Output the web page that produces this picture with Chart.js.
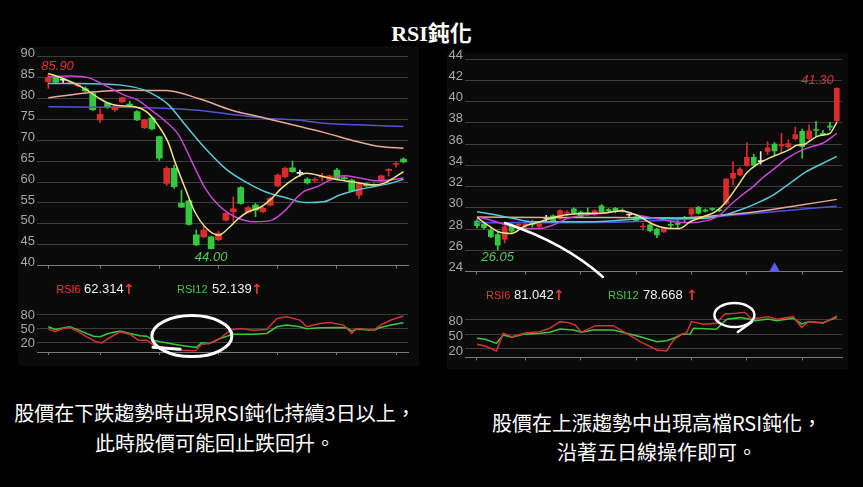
<!DOCTYPE html>
<html>
<head>
<meta charset="utf-8">
<title>RSI鈍化</title>
<script src="https://cdn.jsdelivr.net/npm/chart.js@4.4.1/dist/chart.umd.min.js"></script>
<style>
  body { margin: 0; background: #000; width: 863px; height: 487px; overflow: hidden; position: relative; font-family: "Liberation Sans", Arial, sans-serif; }
  .panel { position: absolute; background: #0a0a0a; }
  canvas { position: absolute; }
  .t { position: absolute; white-space: nowrap; line-height: 16px; }
  .r { color: #e03a36; font-size: 11px; }
  .g { color: #45c845; font-size: 11px; }
  .w { color: #f0f0f0; font-size: 13px; }
  .up { color: #e03a36; font: bold 14px/16px "DejaVu Sans", sans-serif; }
  .title { position: absolute; left: 0; top: 22px; width: 863px; text-align: center; color: #fff; font: bold 22px/24px "Liberation Serif", "Noto Sans CJK TC", serif; }
  .cap { position: absolute; width: 420px; text-align: center; color: #fff; font: 20px/30px "Noto Sans CJK TC", sans-serif; }
</style>
</head>
<body>
<div class="title">RSI鈍化</div>

<div class="panel" style="left:18px;top:46px;width:401px;height:320px"></div>
<div class="panel" style="left:447px;top:53px;width:401px;height:317px"></div>

<canvas id="leftPrice" width="400" height="232" style="left:15px;top:44px"></canvas>
<canvas id="leftRsi" width="400" height="64" style="left:15px;top:298px"></canvas>
<canvas id="rightPrice" width="400" height="235" style="left:445px;top:47px"></canvas>
<canvas id="rightRsi" width="400" height="68" style="left:445px;top:300px"></canvas>

<span class="t r" style="left:56px;top:281px">RSI6</span>
<span class="t w" style="left:84px;top:281px">62.314</span>
<span class="t up" style="left:123px;top:281px">↑</span>
<span class="t g" style="left:177px;top:281px">RSI12</span>
<span class="t w" style="left:212px;top:281px">52.139</span>
<span class="t up" style="left:251px;top:281px">↑</span>

<span class="t r" style="left:486px;top:287px">RSI6</span>
<span class="t w" style="left:514px;top:287px">81.042</span>
<span class="t up" style="left:553px;top:287px">↑</span>
<span class="t g" style="left:608px;top:287px">RSI12</span>
<span class="t w" style="left:643px;top:287px">78.668</span>
<span class="t up" style="left:686px;top:287px">↑</span>

<div class="cap" style="left:5px;top:398px">股價在下跌趨勢時出現RSI鈍化持續3日以上，<br>此時股價可能回止跌回升。</div>
<div class="cap" style="left:447px;top:408px;line-height:29px">股價在上漲趨勢中出現高檔RSI鈍化，<br>沿著五日線操作即可。</div>

<script>
Chart.defaults.font.family = '"Liberation Sans", Arial, sans-serif';
Chart.defaults.animation = false;

// tick positions (bar index) and axis labels
const xTicks = [0, 7, 15, 23, 31, 39, 47];
const leftPriceTicks = [40, 45, 50, 55, 60, 65, 70, 75, 80, 85, 90];
const rightPriceTicks = [24, 26, 28, 30, 32, 34, 36, 38, 40, 42, 44];
const rsiTicks = [20, 50, 80];

// left chart: downtrend candles
const leftOpen  = [84.0, 85.0, 84.4, 83.7, 83.0, 82.4, 81.2, 74.9, 78.9, 77.3, 79.2, 78.5, 76.9, 73.0, 75.4, 70.9, 59.7, 63.3, 54.9, 55.5, 47.4, 46.9, 46.9, 46.2, 50.9, 52.9, 58.7, 52.8, 54.5, 52.9, 54.5, 59.1, 61.3, 63.4, 62.1, 60.7, 60.4, 61.2, 60.5, 62.9, 61.1, 60.5, 56.9, 59.5, 59.4, 60.3, 62.8, 64.2, 65.5];
const leftClose = [85.0, 83.9, 84.4, 83.9, 83.3, 81.8, 77.3, 76.2, 77.8, 78.0, 80.2, 78.4, 74.9, 74.9, 72.7, 65.7, 63.3, 58.9, 54.0, 49.9, 45.0, 48.5, 44.1, 47.8, 52.5, 53.6, 54.9, 53.9, 53.3, 53.7, 56.1, 61.7, 63.3, 62.5, 62.1, 59.8, 60.6, 61.4, 61.5, 60.9, 60.8, 57.9, 59.7, 59.1, 59.2, 61.5, 63.0, 64.4, 64.8];
const leftHigh  = [85.9, 85.4, 84.8, 84.1, 83.5, 82.8, 81.6, 77.5, 79.1, 78.1, 80.3, 79.3, 77.1, 75.1, 75.6, 71.0, 63.7, 64.1, 58.1, 55.7, 48.5, 49.6, 47.1, 48.3, 52.9, 56.5, 58.9, 54.2, 54.9, 54.0, 56.4, 62.0, 63.6, 65.0, 62.9, 61.0, 61.1, 62.1, 61.7, 63.3, 61.3, 60.7, 60.0, 59.8, 59.6, 61.7, 63.2, 64.8, 65.8];
const leftLow   = [82.4, 83.5, 83.8, 83.5, 82.8, 81.6, 77.1, 74.2, 77.6, 76.9, 79.0, 78.0, 74.7, 72.8, 72.5, 65.2, 59.2, 58.5, 53.9, 49.7, 44.8, 46.7, 44.0, 46.0, 50.7, 50.5, 54.7, 52.6, 51.7, 52.6, 54.3, 58.9, 61.0, 62.3, 61.4, 59.5, 60.0, 60.3, 60.3, 60.5, 60.6, 57.7, 56.1, 58.9, 59.0, 60.1, 61.4, 63.6, 64.6];

// left moving averages, [bar index, price]
const leftMa5 = [[0, 86.0], [2, 84.8], [4, 83.2], [5.6, 81.6], [6.9, 80.0], [8.1, 78.9], [9.4, 78.3], [11.7, 78.0], [13.5, 76.5], [14.8, 73.7], [16.2, 69.5], [17.1, 64.9], [18.5, 58.5], [19.8, 52.9], [21.4, 48.9], [23, 47.3], [24.3, 48.9], [25.7, 51.3], [27, 52.9], [28.8, 54.1], [30.2, 56.1], [31.5, 58.5], [33.3, 60.9], [34.9, 62.1], [37.2, 61.3], [39.4, 60.5], [41.7, 59.9], [43.9, 59.3], [45.3, 59.7], [46.6, 60.9], [48, 62.5]];
const leftMa10 = [[0, 85.2], [3, 85.4], [5.4, 85.0], [7.6, 83.2], [10.3, 80.8], [12.1, 79.6], [13.9, 77.2], [15.8, 74.6], [17.6, 71.3], [19.4, 64.9], [21.2, 58.5], [23, 54.5], [25.2, 51.7], [27.9, 50.5], [30.2, 50.9], [32, 53.2], [33.3, 55.8], [34.5, 57.7], [36.3, 58.9], [38.1, 60.5], [39.9, 61.5], [42.1, 61.0], [44.4, 60.3], [46.2, 60.5], [48, 61.0]];
const leftMa20 = [[0, 83.6], [4, 83.6], [9.9, 83.2], [13, 82.0], [14.8, 80.4], [16.2, 78.6], [18.5, 73.7], [21.2, 68.1], [23.9, 63.3], [26.6, 60.1], [29.3, 57.7], [32, 56.3], [34.9, 55.1], [37.2, 55.3], [39.4, 56.9], [41.7, 58.1], [43.9, 58.9], [46.2, 59.7], [48, 60.7]];
const leftMa60 = [[0, 80.2], [5.4, 81.4], [9.9, 82.0], [16, 81.9], [20.3, 80.0], [24.8, 77.2], [29.3, 75.3], [33.3, 73.6], [37.2, 71.9], [41.7, 69.7], [44.8, 68.5], [48, 68.1]];
const leftMa120 = [[0, 78.0], [10, 77.9], [16.2, 77.6], [20.3, 77.2], [24.8, 76.2], [29.3, 75.3], [33.3, 74.9], [37.2, 74.1], [41.7, 73.7], [48, 73.3]];

// left RSI
const leftRsi6 = [[0, 48.2], [0.9, 42.6], [2, 49.6], [2.9, 51.8], [4.1, 42.6], [5.2, 32.0], [6.5, 21.4], [7.2, 19.3], [8.1, 28.5], [9.7, 42.6], [11, 37.6], [12.2, 24.9], [13.3, 24.9], [14.2, 14.4], [16.4, 7.3], [18.2, 3.8], [19.6, 2.4], [20, 3.8], [20.7, 16.5], [21.8, 17.9], [23.2, 28.5], [24.6, 46.1], [25.9, 49.6], [27.7, 46.1], [29.5, 47.5], [30.9, 70.8], [32.2, 74.4], [34, 67.3], [34.9, 53.2], [36.7, 60.2], [38.1, 62.4], [39.9, 56.7], [41, 39.1], [41.7, 49.6], [44, 46.1], [44.9, 56.7], [46.3, 67.3], [48, 75.8]];
const leftRsi12 = [[0, 53.2], [0.9, 47.5], [2.9, 53.2], [4.1, 46.1], [6.1, 33.4], [7, 32.0], [8.1, 39.1], [9.7, 44.0], [11, 39.1], [12.4, 34.1], [13.3, 33.4], [14.2, 24.9], [15.1, 21.4], [17.8, 14.4], [20, 9.4], [20.7, 19.3], [21.8, 17.9], [23.2, 28.5], [25, 37.6], [27.7, 37.6], [29.5, 39.1], [30.9, 53.2], [32.2, 56.7], [34, 53.2], [34.9, 48.9], [36.7, 51.1], [39.4, 51.8], [40.3, 51.1], [41, 44.0], [41.7, 48.2], [44, 46.1], [44.9, 51.8], [46.3, 56.7], [48, 61.6]];

// right chart: uptrend candles
const rightOpen  = [28.77, 28.45, 27.9, 27.5, 27.07, 28.4, 28.35, 28.35, 28.55, 28.25, 29.0, 29.25, 29.0, 29.5, 29.9, 29.6, 29.55, 29.35, 30.2, 29.85, 29.95, 29.8, 29.33, 29.15, 28.2, 28.4, 28.0, 27.75, 28.45, 28.55, 29.0, 29.4, 30.05, 29.8, 29.95, 29.85, 30.45, 32.8, 33.1, 34.0, 34.75, 34.35, 35.3, 36.0, 35.85, 35.75, 36.5, 37.2, 36.5, 37.35, 37.0, 37.65, 38.2];
const rightClose = [28.33, 28.15, 27.3, 26.5, 28.23, 27.8, 28.45, 28.45, 28.45, 28.5, 29.0, 28.8, 29.75, 29.6, 29.5, 29.2, 29.45, 29.75, 29.65, 29.75, 29.65, 29.7, 29.33, 28.8, 28.3, 27.85, 27.45, 28.15, 28.35, 28.45, 28.95, 29.9, 29.5, 29.7, 29.85, 29.75, 32.7, 33.25, 33.65, 34.75, 34.05, 34.35, 35.65, 35.35, 35.95, 36.05, 36.9, 35.75, 37.25, 37.3, 36.85, 37.6, 41.25];
const rightHigh  = [28.9, 28.6, 28.1, 27.8, 28.4, 28.6, 28.7, 28.75, 28.85, 28.6, 29.3, 29.35, 29.85, 29.75, 30.0, 29.7, 30.0, 29.85, 30.3, 29.95, 30.05, 29.9, 29.45, 29.25, 28.55, 28.5, 28.1, 28.2, 28.7, 28.85, 29.2, 30.0, 30.15, 29.9, 30.0, 29.95, 32.75, 34.35, 33.8, 36.15, 35.05, 35.3, 36.2, 36.15, 37.0, 36.4, 37.6, 37.4, 37.8, 38.15, 37.3, 38.05, 41.3];
const rightLow   = [28.1, 28.0, 27.2, 26.05, 26.7, 27.7, 28.1, 28.15, 28.2, 28.15, 28.7, 28.7, 28.9, 29.3, 29.4, 29.1, 29.3, 29.3, 29.6, 29.6, 29.55, 29.6, 29.2, 28.7, 27.9, 27.75, 27.2, 27.7, 28.1, 28.1, 28.7, 29.2, 29.4, 29.6, 29.75, 29.65, 30.3, 32.15, 33.0, 33.9, 33.95, 34.1, 35.0, 35.0, 35.2, 35.6, 36.4, 34.65, 36.4, 36.7, 36.8, 37.3, 38.0];

// right moving averages
const rightMa5 = [[0, 29.11], [1.9, 28.23], [3.1, 27.76], [5, 27.6], [6.7, 28.23], [9.1, 28.7], [11.5, 29.17], [13.9, 29.42], [16.3, 29.48], [18.7, 29.55], [20.9, 29.74], [22.1, 29.55], [23.6, 29.17], [25, 28.6], [26.4, 28.23], [27.9, 28.07], [29.3, 28.07], [30.8, 28.7], [32.7, 29.17], [34.6, 29.7], [36.1, 30.65], [37.5, 31.9], [39, 33.3], [40.4, 34.05], [42.3, 34.7], [43.8, 35.1], [45.2, 35.5], [46.2, 35.9], [47.2, 35.95], [48.1, 36.3], [49.1, 36.7], [50, 36.85], [51, 37.0], [52, 38.05]];
const rightMa10 = [[0, 29.17], [1.9, 28.86], [4.3, 28.39], [6.7, 28.07], [9.1, 28.07], [11, 28.39], [13, 29.0], [15.4, 29.33], [17.8, 29.48], [20.7, 29.7], [23.1, 29.33], [26, 29.0], [28.4, 28.7], [30.8, 28.6], [33.2, 28.8], [35.1, 29.33], [36.6, 30.27], [38, 31.05], [39.9, 32.0], [41.4, 32.9], [42.8, 33.6], [44.7, 34.6], [46.2, 35.2], [48.1, 35.7], [50, 36.1], [52, 37.0]];
const rightMa20 = [[0, 29.64], [2.8, 29.33], [5.3, 29.0], [8.1, 28.7], [11.5, 28.7], [16.3, 28.7], [21.1, 28.86], [24.5, 29.0], [28.4, 29.0], [32.2, 29.0], [35.1, 29.24], [38, 29.8], [40.4, 30.43], [42.8, 31.2], [45.2, 32.3], [47.6, 33.4], [50, 34.2], [52, 34.85]];
const rightMa60 = [[0, 29.15], [10, 29.1], [20, 29.1], [28.4, 29.05], [35.6, 29.33], [40.4, 29.64], [45.2, 30.1], [52, 30.8]];
const rightMa120 = [[0, 28.6], [14, 28.6], [28.4, 28.86], [35.6, 29.24], [42.8, 29.64], [52, 30.15]];

// right RSI
const rightRsi6 = [[0, 29.4], [1.2, 26.1], [2.8, 15.9], [3.8, 51.7], [5, 44.9], [7.2, 53.0], [9.1, 55.1], [10.5, 61.8], [12, 75.3], [13.2, 73.3], [14.2, 68.5], [15.1, 53.7], [17.1, 67.2], [19.7, 67.2], [21.6, 51.7], [23.6, 34.8], [26, 18.0], [27.4, 15.9], [28.4, 38.2], [29.6, 49.7], [30.3, 53.0], [31, 75.3], [32.7, 69.9], [34.6, 71.9], [35.8, 90.8], [37.5, 92.1], [38.7, 94.2], [39.7, 80.7], [42.1, 85.4], [43.3, 80.0], [45.7, 85.4], [46.9, 63.8], [47.9, 75.3], [50, 71.9], [52, 86.7]];
const rightRsi12 = [[0, 41.6], [1.2, 39.5], [2.8, 31.4], [3.8, 48.3], [5, 43.6], [6.7, 49.7], [9.1, 51.7], [10.5, 53.7], [12, 60.4], [13.9, 58.4], [15.1, 53.7], [16.8, 58.4], [19.7, 58.4], [21.6, 51.7], [23.6, 44.9], [26, 34.8], [27.4, 36.8], [28.4, 41.6], [29.6, 49.7], [30.8, 50.3], [31.3, 61.8], [34.6, 59.8], [36.1, 80.0], [38, 83.4], [39.5, 80.0], [39.9, 76.6], [42.1, 80.7], [43.3, 77.3], [45.7, 82.0], [46.9, 70.6], [47.9, 75.3], [50, 73.3], [52, 84.0]];

const RED = '#dc2b2b', GREEN = '#33c83d', NEUTRAL = '#e6e6e6';
const maColors = ['#efe38a', '#c846d2', '#5ac8d2', '#e8aa95', '#5252d2'];

// draws the price tags, hand-drawn circles and the marker triangle
const marks = {
    id: 'marks',
    afterDraw(chart, args, o) {
        const ctx = chart.ctx;
        const px = i => chart.scales.x.getPixelForValue(i);
        const py = v => chart.scales.y.getPixelForValue(v);
        ctx.save();
        (o.labels || []).forEach(l => {
            ctx.font = 'italic 13px "Liberation Sans", Arial, sans-serif';
            ctx.fillStyle = l.color;
            ctx.textAlign = l.align;
            ctx.textBaseline = 'middle';
            ctx.fillText(l.text, px(l.i) + l.dx, py(l.v) + l.dy);
        });
        ctx.strokeStyle = '#ffffff';
        ctx.lineCap = 'round';
        (o.rings || []).forEach(r => {
            ctx.lineWidth = r.w;
            ctx.beginPath();
            ctx.ellipse(px(r.i), py(r.v), r.rx, r.ry, 0, 0, Math.PI * 2);
            ctx.stroke();
        });
        (o.strokes || []).forEach(s => {
            const p = s.pts;
            ctx.lineWidth = s.w;
            ctx.beginPath();
            ctx.moveTo(px(p[0][0]), py(p[0][1]));
            if (p.length === 3) {
                ctx.quadraticCurveTo(px(p[1][0]), py(p[1][1]), px(p[2][0]), py(p[2][1]));
            } else {
                ctx.lineTo(px(p[1][0]), py(p[1][1]));
            }
            ctx.stroke();
        });
        if (o.marker) {
            const mx = px(o.marker.i), bottom = chart.chartArea.bottom;
            ctx.fillStyle = '#5b5bf0';
            ctx.beginPath();
            ctx.moveTo(mx, py(o.marker.v));
            ctx.lineTo(mx + 5.5, bottom);
            ctx.lineTo(mx - 5.5, bottom);
            ctx.closePath();
            ctx.fill();
        }
        ctx.restore();
    }
};
Chart.register(marks);

function xAxis(min, max, height) {
    return {
        type: 'linear', min: min, max: max, offset: false,
        grid: { offset: false, drawOnChartArea: false, drawTicks: true, tickLength: 3, color: '#7a7a7a' },
        border: { display: true, color: '#7a7a7a' },
        ticks: { callback: () => '', padding: 0 },
        afterBuildTicks: s => { s.ticks = xTicks.map(v => ({ value: v })); },
        afterFit: s => { s.height = height; }
    };
}

function yAxis(min, max, ticks, width, labelOffset) {
    return {
        type: 'linear', min: min, max: max, position: 'left',
        grid: { color: '#3c3c3c', drawTicks: false },
        border: { display: false },
        ticks: { color: '#a8a8a8', font: { size: 13 }, padding: 2, labelOffset: labelOffset },
        afterBuildTicks: s => { s.ticks = ticks.map(v => ({ value: v })); },
        afterFit: s => { s.width = width; }
    };
}

function candleSets(open, close, high, low, bodyWidth) {
    const colors = open.map((o, i) => close[i] > o ? RED : (close[i] < o ? GREEN : NEUTRAL));
    return [
        { type: 'bar', data: low.map((l, i) => ({ x: i, y: [l, high[i]] })), backgroundColor: colors, barThickness: 1, grouped: false, order: 2 },
        { type: 'bar', data: open.map((o, i) => ({ x: i, y: [o, close[i]] })), backgroundColor: colors, barThickness: bodyWidth, minBarLength: 1, grouped: false, order: 1 }
    ];
}

function lineSets(lines, colors, smooth) {
    return lines.map((pts, k) => ({
        type: 'line',
        data: pts.map(p => ({ x: p[0], y: p[1] })),
        borderColor: colors[k],
        borderWidth: 1.5,
        pointRadius: 0,
        cubicInterpolationMode: smooth ? 'monotone' : 'default',
        tension: 0,
        order: 0
    }));
}

function baseOptions(padding, scales, marksOpts) {
    return {
        responsive: false,
        devicePixelRatio: 1,
        animation: false,
        events: [],
        layout: { padding: padding },
        scales: scales,
        plugins: { legend: { display: false }, tooltip: { enabled: false }, marks: marksOpts }
    };
}

// left price chart
new Chart(document.getElementById('leftPrice'), {
    type: 'bar',
    data: {
        datasets: candleSets(leftOpen, leftClose, leftHigh, leftLow, 6)
            .concat(lineSets([leftMa5, leftMa10, leftMa20, leftMa60, leftMa120], maColors, true))
    },
    options: baseOptions({ left: 0, right: 7, top: 12.7, bottom: 0 },
        { x: xAxis(-1.53, 48.61, 10.3), y: yAxis(40, 90, leftPriceTicks, 22, -3) },
        {
            labels: [
                { text: leftHigh[0].toFixed(2), i: 0, v: leftHigh[0], dx: -7, dy: -7, align: 'left', color: '#d8362f' },
                { text: leftLow[22].toFixed(2), i: 22, v: leftLow[22], dx: 0, dy: 8, align: 'center', color: '#56c656' }
            ]
        })
});

// left RSI
new Chart(document.getElementById('leftRsi'), {
    type: 'line',
    data: { datasets: lineSets([leftRsi6, leftRsi12], ['#d23434', '#3cc83c'], false) },
    options: baseOptions({ left: 0, right: 7, top: 11.3, bottom: 0 },
        { x: xAxis(-1.53, 48.61, 10), y: yAxis(0, 90, rsiTicks, 22, 1) },
        {
            rings: [{ i: 19.4, v: 33.5, rx: 40, ry: 20.5, w: 3 }],
            strokes: [{ pts: [[14.15, 10], [17.8, 5.7]], w: 3 }]
        })
});

// right price chart
new Chart(document.getElementById('rightPrice'), {
    type: 'bar',
    data: {
        datasets: candleSets(rightOpen, rightClose, rightHigh, rightLow, 5)
            .concat(lineSets([rightMa5, rightMa10, rightMa20, rightMa60, rightMa120], maColors, true))
    },
    options: baseOptions({ left: 0, right: 3, top: 12, bottom: 0 },
        { x: xAxis(-1.734, 52.75, 10.3), y: yAxis(24, 44, rightPriceTicks, 20, -4) },
        {
            labels: [
                { text: rightLow[3].toFixed(2), i: 3, v: rightLow[3], dx: 0, dy: 7, align: 'center', color: '#56c656' },
                { text: rightHigh[52].toFixed(2), i: 52, v: rightHigh[52], dx: -3, dy: -7, align: 'right', color: '#d8362f' }
            ],
            strokes: [{ pts: [[4.05, 28.58], [12.7, 26.7], [18.2, 23.5]], w: 2.5 }],
            marker: { i: 43, v: 24.88 }
        })
});

// right RSI
new Chart(document.getElementById('rightRsi'), {
    type: 'line',
    data: { datasets: lineSets([rightRsi6, rightRsi12], ['#d23434', '#3cc83c'], false) },
    options: baseOptions({ left: 0, right: 3, top: 11.4, bottom: 0 },
        { x: xAxis(-1.734, 52.75, 10.6), y: yAxis(3, 96, rsiTicks, 20, 2) },
        {
            rings: [{ i: 37.2, v: 88.7, rx: 20, ry: 12, w: 2.5 }],
            strokes: [{ pts: [[39.7, 74.5], [37.7, 54.3]], w: 2.5 }]
        })
});
</script>
</body>
</html>
